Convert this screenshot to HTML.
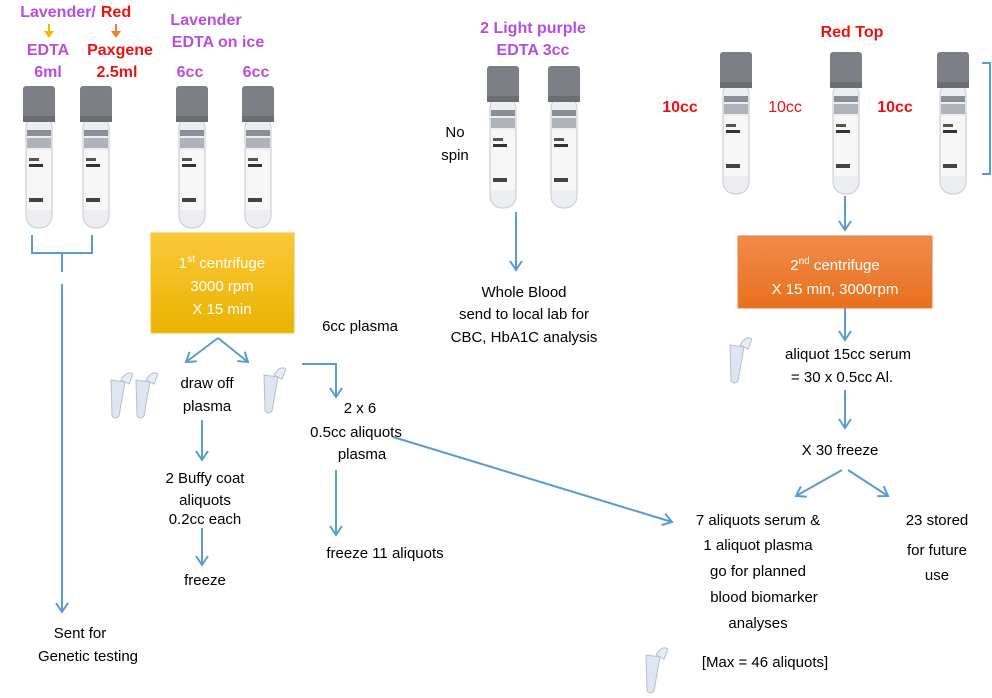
<!DOCTYPE html>
<html><head><meta charset="utf-8"><style>
body{margin:0;background:#fff;}
svg{display:block;font-family:"Liberation Sans",Arial,sans-serif;}
.t{font-size:15px;fill:#000;text-anchor:middle;}
.p{font-size:16px;fill:#b44fe0;font-weight:bold;text-anchor:middle;}
.r{font-size:16px;fill:#ee1111;font-weight:bold;text-anchor:middle;}
.w{font-size:15px;fill:#fff;text-anchor:middle;}
.l{stroke:#5b9bd5;stroke-width:2;fill:none;}
</style></head><body>
<svg width="992" height="698" viewBox="0 0 992 698">
<defs>
<symbol id="tube" viewBox="0 0 32 145" width="32" height="145">
<rect x="3" y="30" width="26" height="112" rx="12" fill="#eceef1" stroke="#c8cacd"/>
<rect x="4" y="44" width="24" height="6" fill="#8a8e96"/>
<rect x="4" y="52" width="24" height="10" fill="#aeb3bb"/>
<rect x="4" y="64" width="24" height="60" fill="#f7f7f8"/>
<rect x="6" y="72" width="10" height="3" fill="#555"/>
<rect x="6" y="78" width="14" height="3" fill="#333"/>
<rect x="6" y="112" width="14" height="4" fill="#444"/>
<rect x="0" y="0" width="32" height="36" rx="3" fill="#7c7f85"/>
<rect x="0" y="30" width="32" height="6" fill="#6a6d72"/>
</symbol>
<symbol id="mt" viewBox="0 0 30 50" width="30" height="50">
<path d="M8 10 L22 12 L16 46 Q12 50 9 46 Z" fill="#dfe6f2" stroke="#b5c0d4"/>
<path d="M18 10 Q24 0 30 4 L26 14 Z" fill="#e8edf5" stroke="#b5c0d4"/>
</symbol>
<marker id="a" markerWidth="14" markerHeight="14" refX="10" refY="7" orient="auto" markerUnits="userSpaceOnUse"><path d="M1 1 L10 7 L1 13" fill="none" stroke="#5b9bd5" stroke-width="2"/></marker>
<linearGradient id="g1" x1="0" y1="0" x2="0" y2="1"><stop offset="0" stop-color="#fcc83a"/><stop offset="1" stop-color="#eab300"/></linearGradient>
<linearGradient id="g2" x1="0" y1="0" x2="0" y2="1"><stop offset="0" stop-color="#f08c4a"/><stop offset="1" stop-color="#e8701d"/></linearGradient>
</defs>

<!-- left labels -->
<text class="p" x="58" y="17">Lavender/</text>
<text class="r" x="116" y="17">Red</text>
<path d="M49 24 V34" stroke="#f5b800" stroke-width="2"/><path d="M44 31 L49 38 L54 31 Z" fill="#f5b800"/>
<path d="M116 24 V34" stroke="#ef7f30" stroke-width="2"/><path d="M111 31 L116 38 L121 31 Z" fill="#ef7f30"/>
<text class="p" x="48" y="55">EDTA</text>
<text class="p" x="48" y="77">6ml</text>
<text class="r" x="120" y="55">Paxgene</text>
<text class="r" x="117" y="77">2.5ml</text>
<text class="p" x="206" y="25">Lavender</text>
<text class="p" x="218" y="47">EDTA on ice</text>
<text class="p" x="190" y="77">6cc</text>
<text class="p" x="256" y="77">6cc</text>

<use href="#tube" x="23" y="86"/>
<use href="#tube" x="80" y="86"/>
<use href="#tube" x="176" y="86"/>
<use href="#tube" x="242" y="86"/>

<path class="l" d="M32 235 V253 H92 V235 M62 253 V272 M62 284 V610" />
<path class="l" d="M62 600 V612" marker-end="url(#a)"/>
<text class="t" x="80" y="638">Sent for</text>
<text class="t" x="88" y="661">Genetic testing</text>

<rect x="151" y="233" width="143" height="100" fill="url(#g1)" stroke="#f0c040"/>
<text class="w" x="222" y="268">1<tspan font-size="10" dy="-6">st</tspan><tspan dy="6"> centrifuge</tspan></text>
<text class="w" x="222" y="291">3000 rpm</text>
<text class="w" x="222" y="314">X 15 min</text>

<text class="t" x="360" y="331">6cc plasma</text>
<path class="l" d="M218 338 L186 362" marker-end="url(#a)"/>
<path class="l" d="M218 338 L248 362" marker-end="url(#a)"/>
<use href="#mt" x="103" y="370"/>
<use href="#mt" x="128" y="370"/>
<use href="#mt" x="256" y="365"/>
<text class="t" x="207" y="388">draw off</text>
<text class="t" x="207" y="411">plasma</text>
<path class="l" d="M202 420 V460" marker-end="url(#a)"/>
<text class="t" x="205" y="483">2 Buffy coat</text>
<text class="t" x="205" y="505">aliquots</text>
<text class="t" x="205" y="524">0.2cc each</text>
<path class="l" d="M202 528 V565" marker-end="url(#a)"/>
<text class="t" x="205" y="585">freeze</text>

<path class="l" d="M302 364 H336 V397" marker-end="url(#a)"/>
<text class="t" x="360" y="413">2 x 6</text>
<text class="t" x="356" y="437">0.5cc aliquots</text>
<text class="t" x="362" y="459">plasma</text>
<path class="l" d="M336 470 V535" marker-end="url(#a)"/>
<text class="t" x="385" y="558">freeze 11 aliquots</text>
<path class="l" d="M393 437 L672 522" marker-end="url(#a)"/>

<!-- middle -->
<text class="p" x="533" y="33">2 Light purple</text>
<text class="p" x="533" y="55">EDTA 3cc</text>
<use href="#tube" x="487" y="66"/>
<use href="#tube" x="548" y="66"/>
<text class="t" x="455" y="137">No</text>
<text class="t" x="455" y="160">spin</text>
<path class="l" d="M516 212 V270" marker-end="url(#a)"/>
<text class="t" x="524" y="297">Whole Blood</text>
<text class="t" x="524" y="319">send to local lab for</text>
<text class="t" x="524" y="342">CBC, HbA1C analysis</text>

<!-- right -->
<text class="r" x="852" y="37">Red Top</text>
<use href="#tube" x="720" y="52"/>
<use href="#tube" x="830" y="52"/>
<use href="#tube" x="937" y="52"/>
<text class="r" x="680" y="112">10cc</text>
<text x="785" y="112" font-size="16" fill="#ee1111" text-anchor="middle">10cc</text>
<text class="r" x="895" y="112">10cc</text>
<path class="l" d="M982 63 H990 V174 H982"/>
<path class="l" d="M845 196 V230" marker-end="url(#a)"/>
<rect x="738" y="236" width="194" height="72" fill="url(#g2)" stroke="#e88040"/>
<text class="w" x="835" y="270">2<tspan font-size="10" dy="-6">nd</tspan><tspan dy="6"> centrifuge</tspan></text>
<text class="w" x="835" y="294">X 15 min, 3000rpm</text>
<path class="l" d="M845 308 V340" marker-end="url(#a)"/>
<use href="#mt" x="722" y="335"/>
<text class="t" x="848" y="359">aliquot 15cc serum</text>
<text class="t" x="842" y="382">= 30 x 0.5cc Al.</text>
<path class="l" d="M845 390 V428" marker-end="url(#a)"/>
<text class="t" x="840" y="455">X 30 freeze</text>
<path class="l" d="M842 470 L796 496" marker-end="url(#a)"/>
<path class="l" d="M848 470 L888 496" marker-end="url(#a)"/>
<text class="t" x="758" y="525">7 aliquots serum &amp;</text>
<text class="t" x="758" y="550">1 aliquot plasma</text>
<text class="t" x="758" y="576">go for planned</text>
<text class="t" x="764" y="602">blood   biomarker</text>
<text class="t" x="758" y="628">analyses</text>
<text class="t" x="937" y="525">23 stored</text>
<text class="t" x="937" y="555">for future</text>
<text class="t" x="937" y="580">use</text>
<text class="t" x="765" y="667">[Max = 46 aliquots]</text>
<use href="#mt" x="638" y="645"/>
</svg>
</body></html>
